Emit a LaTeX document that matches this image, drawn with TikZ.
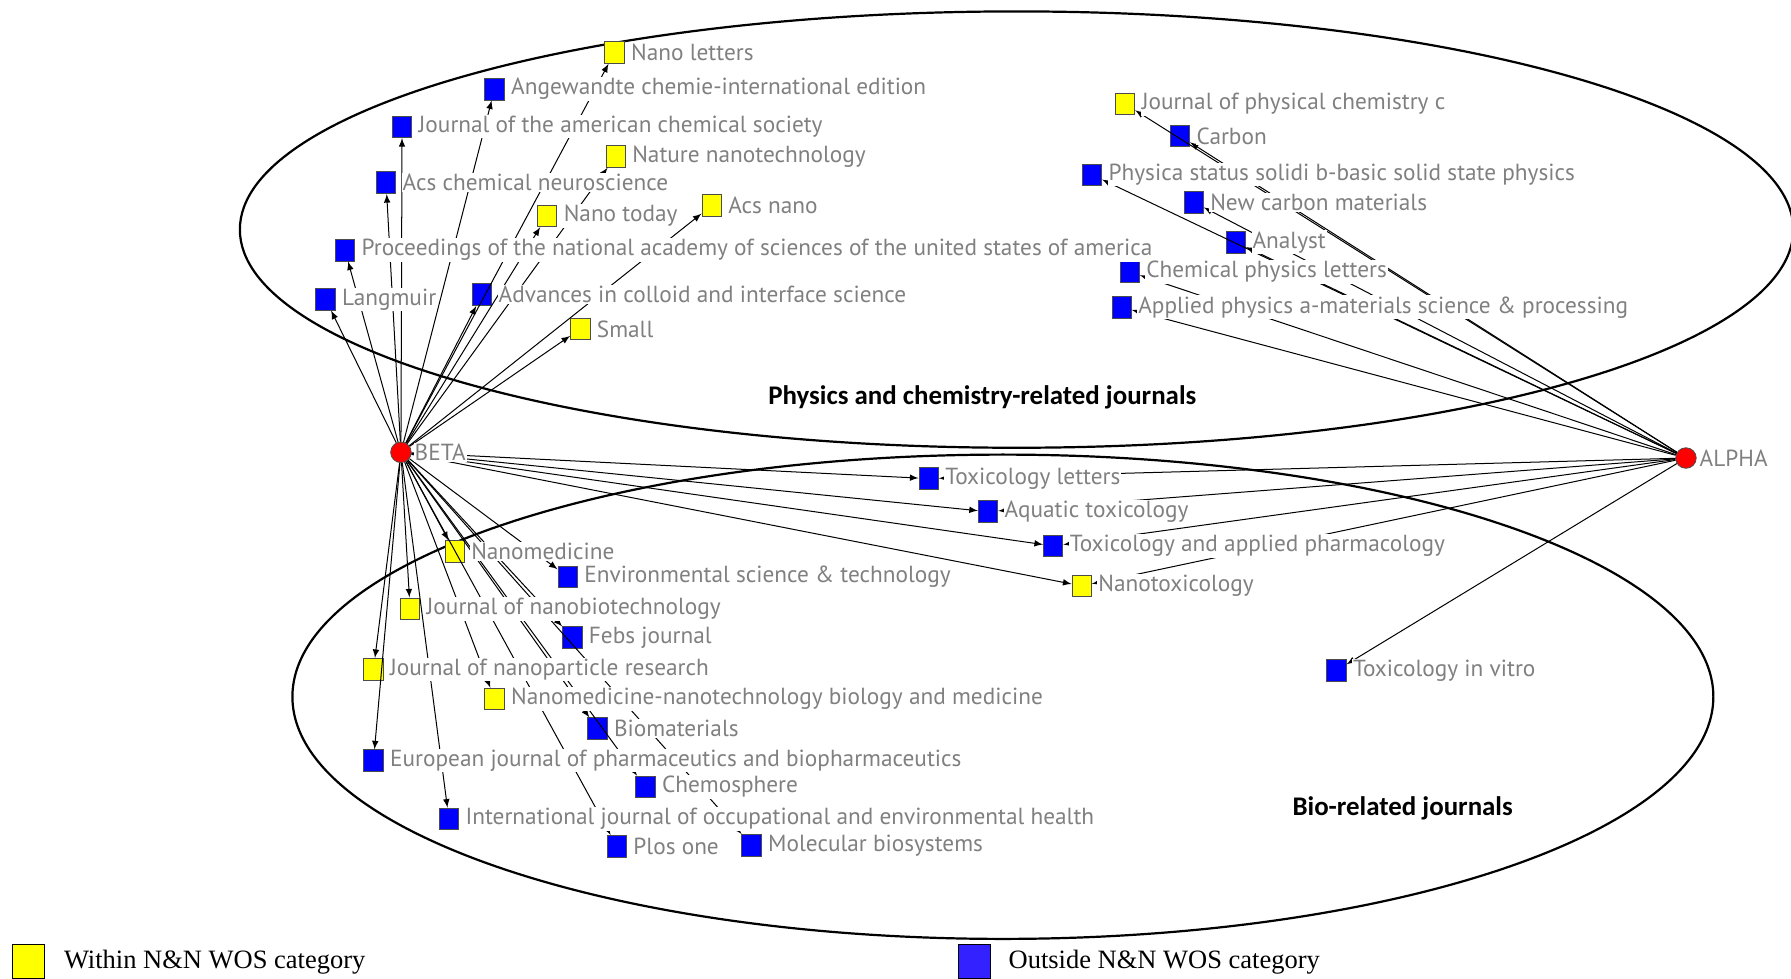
\documentclass[tikz,border=0pt]{standalone}
\usepackage{fontspec}
\usepackage{tikz}
\usetikzlibrary{positioning}
\setmainfont{PT Sans}
\newfontfamily\legendfont{Liberation Serif}
\newfontfamily\titlefont{Carlito}
\definecolor{nnyellow}{RGB}{255,255,0}
\definecolor{nnblue}{RGB}{0,0,255}
\definecolor{keyblue}{RGB}{51,34,255}
\definecolor{labelgray}{RGB}{128,128,128}

\begin{document}
\begin{tikzpicture}[>=latex, font=\fontsize{11.6}{13}\selectfont,
  inbox/.style={draw=black!70, fill=nnyellow, minimum width=0.34cm, minimum height=0.38cm, inner sep=0pt},
  outbox/.style={inbox, fill=nnblue},
  keybox/.style={draw=black, line width=0.8pt, minimum width=0.56cm, minimum height=0.6cm, inner sep=0pt},
  hub/.style={circle, draw=black!70, fill=red, minimum size=0.36cm, inner sep=0pt},
  lbl/.style={text=labelgray, fill=white, inner sep=0.5pt},
  edge/.style={->, line width=0.5pt},
  grouptitle/.style={font=\titlefont\bfseries\fontsize{13.4}{15}\selectfont},
  keytext/.style={font=\legendfont\fontsize{13.2}{15}\selectfont, inner sep=0pt}]
\useasboundingbox (0,0) rectangle (31.36,17.14);

% the two groups of journals
\draw[line width=1.1pt] (17.80,13.12) ellipse [x radius=13.6, y radius=3.82];
\draw[line width=1.1pt] (17.56,4.94) ellipse [x radius=12.44, y radius=4.24];
\node[grouptitle] (phystitle) at (17.20,10.18) {Physics and chemistry-related journals};
\node[grouptitle] (biotitle) at (24.56,2.98) {Bio-related journals};

% hubs
\node[hub] (beta) at (7.02,9.22) {};
\node[hub] (alpha) at (29.52,9.12) {};

% journals reached from BETA, upper part
\node[inbox] (nanolet) at (10.76,16.22) {};
\node[outbox] (angew) at (8.66,15.58) {};
\node[outbox] (jacs) at (7.04,14.92) {};
\node[inbox] (natnano) at (10.78,14.40) {};
\node[outbox] (acsneuro) at (6.76,13.94) {};
\node[inbox] (nanotoday) at (9.58,13.36) {};
\node[inbox] (acsnano) at (12.46,13.54) {};
\node[outbox] (pnas) at (6.04,12.76) {};
\node[outbox] (langmuir) at (5.70,11.90) {};
\node[outbox] (advcoll) at (8.44,11.98) {};
\node[inbox] (small) at (10.16,11.38) {};

% journals reached from ALPHA, upper part
\node[inbox] (jpcc) at (19.70,15.32) {};
\node[outbox] (carbon) at (20.66,14.76) {};
\node[outbox] (physica) at (19.12,14.08) {};
\node[outbox] (newcarbon) at (20.90,13.60) {};
\node[outbox] (analyst) at (21.64,12.90) {};
\node[outbox] (chemphys) at (19.78,12.38) {};
\node[outbox] (applphys) at (19.64,11.76) {};

% shared and bio journals
\node[outbox] (toxlet) at (16.26,8.76) {};
\node[outbox] (aquatic) at (17.30,8.18) {};
\node[outbox] (toxappl) at (18.44,7.58) {};
\node[inbox] (nanotox) at (18.94,6.88) {};
\node[outbox] (toxvitro) at (23.40,5.40) {};
\node[inbox] (nanomed) at (7.96,7.48) {};
\node[outbox] (envsci) at (9.94,7.04) {};
\node[inbox] (jnanobio) at (7.18,6.48) {};
\node[outbox] (febs) at (10.02,5.98) {};
\node[inbox] (jnanopart) at (6.54,5.42) {};
\node[inbox] (nanomednt) at (8.66,4.90) {};
\node[outbox] (biomat) at (10.46,4.38) {};
\node[outbox] (eurojpb) at (6.54,3.82) {};
\node[outbox] (chemo) at (11.30,3.36) {};
\node[outbox] (intjoeh) at (7.86,2.80) {};
\node[outbox] (plos) at (10.80,2.32) {};
\node[outbox] (molbio) at (13.16,2.34) {};

% citation links
\foreach \j in {nanolet,angew,jacs,natnano,acsneuro,nanotoday,acsnano,pnas,langmuir,advcoll,small,
  toxlet,aquatic,toxappl,nanotox,nanomed,envsci,jnanobio,febs,jnanopart,nanomednt,biomat,eurojpb,chemo,intjoeh,plos,molbio}
  \draw[edge] (beta) -- (\j);
\foreach \j in {jpcc,carbon,physica,newcarbon,analyst,chemphys,applphys,toxlet,aquatic,toxappl,nanotox,toxvitro}
  \draw[edge] (alpha) -- (\j);

% names
\node[lbl, right=0.03cm of beta] {BETA};
\node[lbl, right=0.03cm of alpha] {ALPHA};
\node[lbl, right=0.09cm of nanolet] {Nano letters};
\node[lbl, right=0.09cm of angew] {Angewandte chemie-international edition};
\node[lbl, right=0.09cm of jacs] {Journal of the american chemical society};
\node[lbl, right=0.09cm of natnano] {Nature nanotechnology};
\node[lbl, right=0.09cm of acsneuro] {Acs chemical neuroscience};
\node[lbl, right=0.09cm of nanotoday] {Nano today};
\node[lbl, right=0.09cm of acsnano] {Acs nano};
\node[lbl, right=0.09cm of pnas] {Proceedings of the national academy of sciences of the united states of america};
\node[lbl, right=0.09cm of langmuir] {Langmuir};
\node[lbl, right=0.09cm of advcoll] {Advances in colloid and interface science};
\node[lbl, right=0.09cm of small] {Small};
\node[lbl, right=0.09cm of jpcc] {Journal of physical chemistry c};
\node[lbl, right=0.09cm of carbon] {Carbon};
\node[lbl, right=0.09cm of physica] {Physica status solidi b-basic solid state physics};
\node[lbl, right=0.09cm of newcarbon] {New carbon materials};
\node[lbl, right=0.09cm of analyst] {Analyst};
\node[lbl, right=0.09cm of chemphys] {Chemical physics letters};
\node[lbl, right=0.09cm of applphys] {Applied physics a-materials science \& processing};
\node[lbl, right=0.09cm of toxlet] {Toxicology letters};
\node[lbl, right=0.09cm of aquatic] {Aquatic toxicology};
\node[lbl, right=0.09cm of toxappl] {Toxicology and applied pharmacology};
\node[lbl, right=0.09cm of nanotox] {Nanotoxicology};
\node[lbl, right=0.09cm of toxvitro] {Toxicology in vitro};
\node[lbl, right=0.09cm of nanomed] {Nanomedicine};
\node[lbl, right=0.09cm of envsci] {Environmental science \& technology};
\node[lbl, right=0.09cm of jnanobio] {Journal of nanobiotechnology};
\node[lbl, right=0.09cm of febs] {Febs journal};
\node[lbl, right=0.09cm of jnanopart] {Journal of nanoparticle research};
\node[lbl, right=0.09cm of nanomednt] {Nanomedicine-nanotechnology biology and medicine};
\node[lbl, right=0.09cm of biomat] {Biomaterials};
\node[lbl, right=0.09cm of eurojpb] {European journal of pharmaceutics and biopharmaceutics};
\node[lbl, right=0.09cm of chemo] {Chemosphere};
\node[lbl, right=0.09cm of intjoeh] {International journal of occupational and environmental health};
\node[lbl, right=0.09cm of plos] {Plos one};
\node[lbl, right=0.09cm of molbio] {Molecular biosystems};

% key
\node[keybox, fill=nnyellow] (keyin) at (0.50,0.30) {};
\node[keytext, right=0.32cm of keyin] {Within N\&N WOS category};
\node[keybox, fill=keyblue] (keyout) at (17.06,0.30) {};
\node[keytext, right=0.30cm of keyout] {Outside N\&N WOS category};
\end{tikzpicture}
\end{document}
